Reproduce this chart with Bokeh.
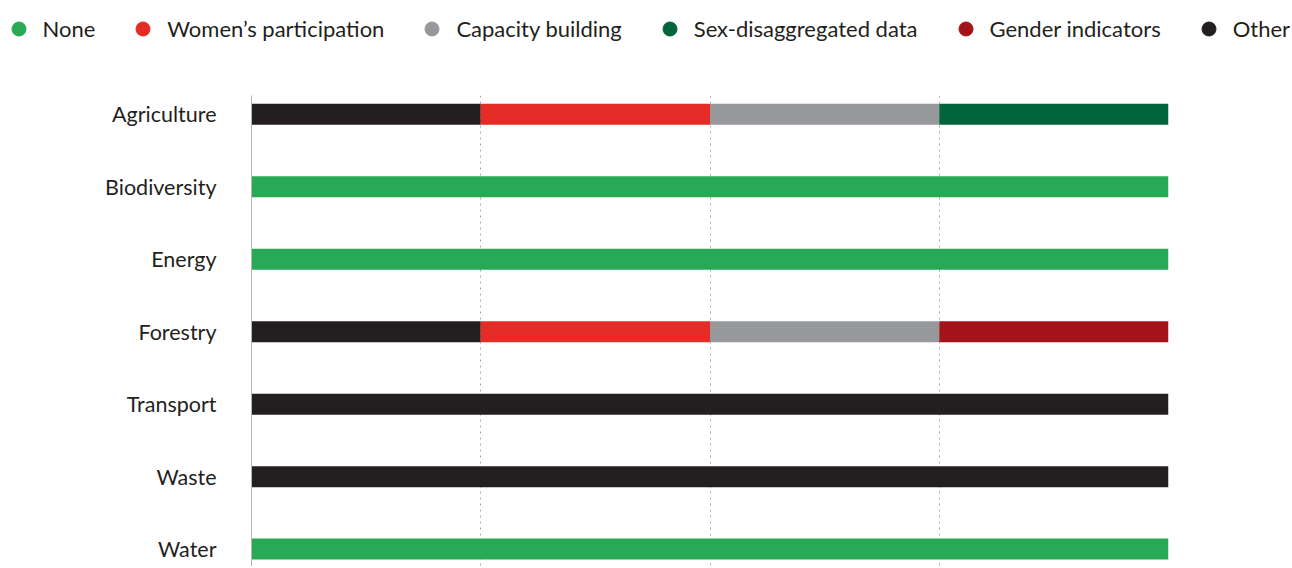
from bokeh.plotting import figure
from bokeh.layouts import column, row
from bokeh.models import ColumnDataSource, Range1d, FixedTicker, Legend, LegendItem
from bokeh.embed import file_html
from bokeh.resources import INLINE

categories = ["Agriculture", "Biodiversity", "Energy", "Forestry", "Transport", "Waste", "Water"]
series = ["None", "Women\u2019s participation", "Capacity building",
          "Sex-disaggregated data", "Gender indicators", "Other"]
colors = ["#28a955", "#e42b25", "#97989c", "#00653a", "#a3131a", "#231f20"]

none_vals = [0, 100, 100, 0, 0, 0, 100]
women_vals = [25, 0, 0, 25, 0, 0, 0]
capacity_vals = [25, 0, 0, 25, 0, 0, 0]
sexdis_vals = [25, 0, 0, 0, 0, 0, 0]
gender_vals = [0, 0, 0, 25, 0, 0, 0]
other_vals = [25, 0, 0, 25, 100, 100, 0]

ypos = list(range(len(categories)))
data = dict(y=ypos, s0=none_vals, s1=women_vals, s2=capacity_vals,
            s3=sexdis_vals, s4=gender_vals, s5=other_vals)
source = ColumnDataSource(data)

FONT = "Lato"
TXT = "#231f20"
W = 1290

# ---- legend strip ----
lg = figure(width=W, height=95, x_range=Range1d(0, 1), y_range=Range1d(0, 1),
            output_backend="svg", toolbar_location=None,
            min_border_left=0, min_border_right=0, min_border_top=0, min_border_bottom=0)
lg.axis.visible = False
lg.grid.grid_line_color = None
lg.outline_line_color = None
nan = float("nan")
items = []
for name, c in zip(series, colors):
    r = lg.scatter(x=[nan], y=[nan], marker="circle", fill_color=c, line_color=c)
    items.append(LegendItem(label=name, renderers=[r]))
legend = Legend(items=items, orientation="horizontal", location=(0.5, 49.5),
                glyph_width=35, glyph_height=35, label_standoff=7, spacing=30,
                padding=0, margin=0, border_line_color=None, background_fill_alpha=0,
                label_text_font=FONT, label_text_font_size="22px", label_text_color=TXT)
lg.add_layout(legend, "center")

# ---- main chart ----
p = figure(width=W, height=471,
           x_range=Range1d(0, 100), y_range=Range1d(6.24, -0.26),
           output_backend="svg", toolbar_location=None,
           min_border_left=251, min_border_right=W - 1168, min_border_top=0, min_border_bottom=0)

# stacking order left to right: Other, Women's, Capacity, Sex-dis, Gender, None
order = ["s5", "s1", "s2", "s3", "s4", "s0"]
order_colors = [colors[5], colors[1], colors[2], colors[3], colors[4], colors[0]]
p.hbar_stack(order, y="y", height=0.29, color=order_colors, source=source, line_width=0)

p.xaxis.visible = False
p.xgrid.ticker = FixedTicker(ticks=[0, 25, 50, 75, 100])
p.xgrid.grid_line_color = "#a8a8a8"
p.xgrid.grid_line_dash = "2 4"
p.xgrid.grid_line_width = 1
p.ygrid.grid_line_color = None

p.yaxis.ticker = FixedTicker(ticks=ypos)
p.yaxis.major_label_overrides = {i: c for i, c in zip(ypos, categories)}
p.yaxis.major_tick_line_color = None
p.yaxis.minor_tick_line_color = None
p.yaxis.axis_line_color = "#b5b5b5"
p.yaxis.major_label_standoff = 29
p.yaxis.major_label_text_font = FONT
p.yaxis.major_label_text_font_size = "21.5px"
p.yaxis.major_label_text_color = TXT

p.outline_line_color = None

layout = column(row(lg), p, spacing=0)
open("out.html", "w").write(file_html(layout, INLINE))
